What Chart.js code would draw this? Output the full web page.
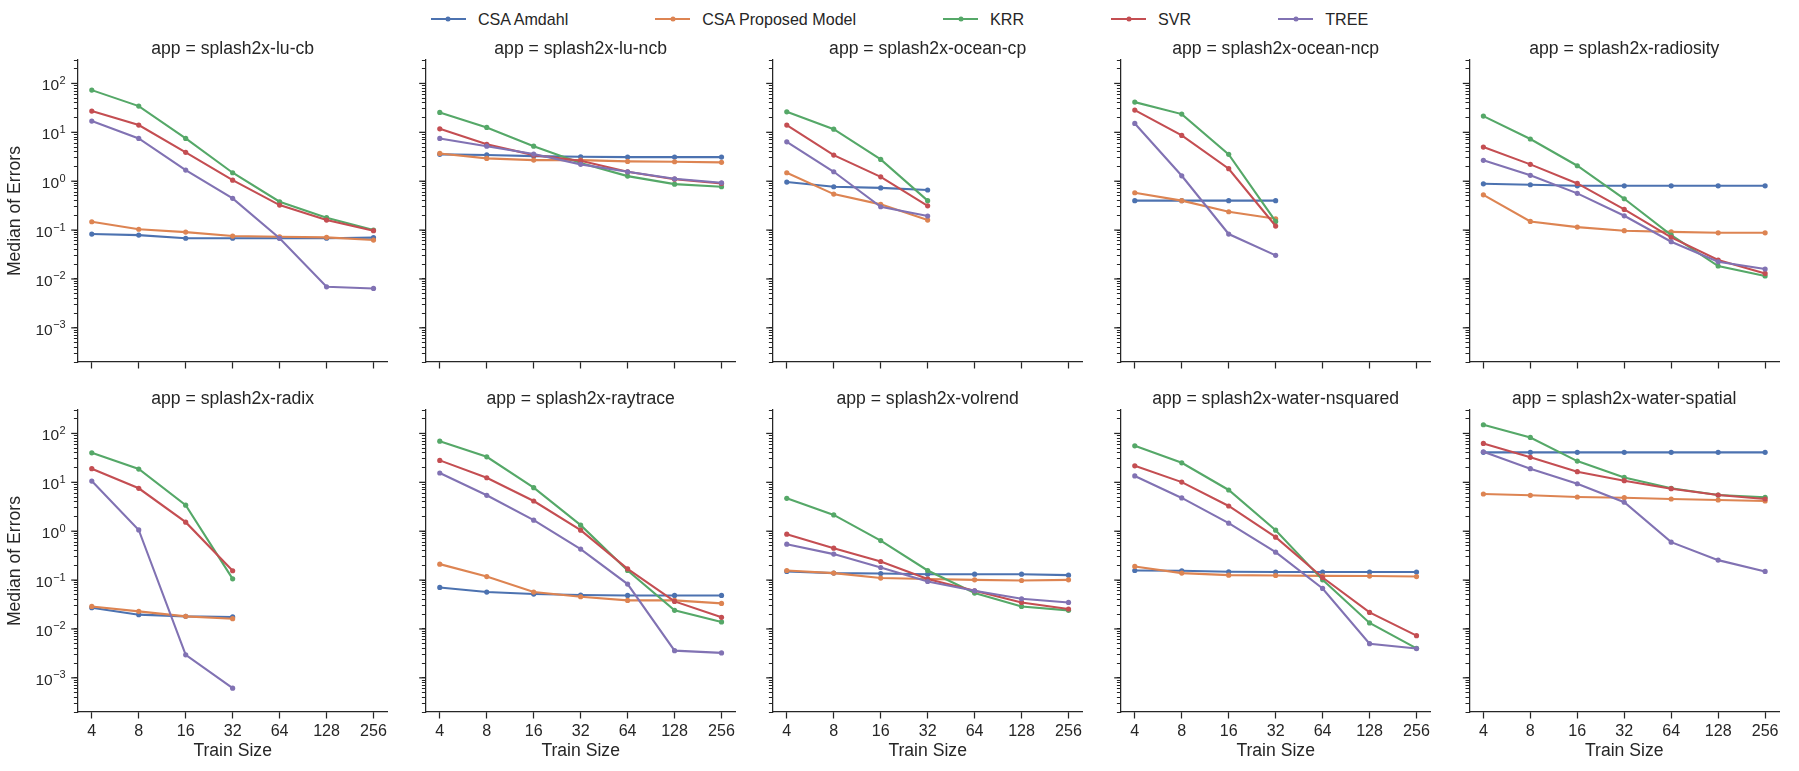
<!DOCTYPE html>
<html>
<head>
<meta charset="utf-8">
<script src="https://cdn.jsdelivr.net/npm/chart.js@4.4.0/dist/chart.umd.min.js"></script>
<style>
  html, body { margin: 0; padding: 0; background: #ffffff; }
  #wrap { position: relative; width: 1799px; height: 771px; overflow: hidden; background: #ffffff;
          font-family: "Liberation Sans", Arial, sans-serif; color: #262626; }
  #wrap canvas { position: absolute; }
  #legend { position: absolute; top: 9px; left: 0; width: 1799px; height: 20px; display: flex;
            justify-content: center; align-items: center; gap: 87px; font-size: 16.1px; line-height: 20px; }
  .item { display: flex; align-items: center; white-space: nowrap; }
  .handle { position: relative; width: 35px; height: 2.2px; margin-right: 12px; background: var(--c); }
  .handle::after { content: ""; position: absolute; left: 50%; top: 50%; width: 5px; height: 5px;
                   border-radius: 50%; background: var(--c); transform: translate(-50%, -50%); }
</style>
</head>
<body>
<div id="wrap"><div id="legend"></div></div>
<script>
// ---------------- data ----------------
const trainSizes = [4, 8, 16, 32, 64, 128, 256];
const xTickLabels = ['4', '8', '16', '32', '64', '128', '256'];
const yMajorExponents = [-3, -2, -1, 0, 1, 2];
const apps = ['splash2x-lu-cb', 'splash2x-lu-ncb', 'splash2x-ocean-cp', 'splash2x-ocean-ncp', 'splash2x-radiosity',
              'splash2x-radix', 'splash2x-raytrace', 'splash2x-volrend', 'splash2x-water-nsquared', 'splash2x-water-spatial'];
const seriesNames = ['CSA Amdahl', 'CSA Proposed Model', 'KRR', 'SVR', 'TREE'];
const seriesColors = ['#4C72B0', '#DD8452', '#55A868', '#C44E52', '#8172B3'];

const csaAmdahl = [
  [0.083, 0.079, 0.068, 0.068, 0.068, 0.068, 0.070],
  [3.54, 3.44, 3.26, 3.16, 3.11, 3.11, 3.11],
  [0.96, 0.77, 0.73, 0.66],
  [0.40, 0.40, 0.40, 0.40],
  [0.885, 0.845, 0.805, 0.805, 0.805, 0.805, 0.805],
  [0.0272, 0.0196, 0.0181, 0.0176],
  [0.0706, 0.0569, 0.0518, 0.0494, 0.0485, 0.0485, 0.0485],
  [0.150, 0.139, 0.136, 0.132, 0.132, 0.132, 0.126],
  [0.157, 0.155, 0.148, 0.146, 0.146, 0.146, 0.146],
  [41, 41, 41, 41, 41, 41, 41]
];
const csaProposed = [
  [0.148, 0.104, 0.091, 0.0755, 0.073, 0.071, 0.0625],
  [3.7, 2.93, 2.7, 2.7, 2.54, 2.5, 2.43],
  [1.49, 0.545, 0.336, 0.16],
  [0.58, 0.40, 0.237, 0.17],
  [0.527, 0.150, 0.115, 0.097, 0.092, 0.088, 0.088],
  [0.0289, 0.0229, 0.0181, 0.0162],
  [0.212, 0.118, 0.0569, 0.0456, 0.0384, 0.0384, 0.0333],
  [0.157, 0.139, 0.110, 0.105, 0.101, 0.098, 0.101],
  [0.190, 0.139, 0.126, 0.124, 0.122, 0.121, 0.118],
  [5.77, 5.43, 5.01, 4.85, 4.56, 4.35, 4.15]
];
const krr = [
  [73, 34.4, 7.5, 1.49, 0.38, 0.179, 0.100],
  [25.5, 12.6, 5.2, 2.35, 1.27, 0.87, 0.77],
  [26.3, 11.6, 2.79, 0.40],
  [41.5, 23.6, 3.54, 0.150],
  [21.5, 7.3, 2.07, 0.437, 0.079, 0.0184, 0.0115],
  [40.2, 18.7, 3.4, 0.106],
  [69.6, 33.3, 7.76, 1.33, 0.157, 0.024, 0.0139],
  [4.71, 2.15, 0.643, 0.157, 0.0543, 0.0289, 0.024],
  [55.8, 25.1, 6.97, 1.05, 0.101, 0.0133, 0.00402],
  [150.6, 82.8, 27.2, 12.6, 7.55, 5.5, 4.94]
];
const svr = [
  [27.2, 14.1, 3.9, 1.05, 0.325, 0.160, 0.097],
  [11.8, 5.7, 3.42, 2.62, 1.56, 1.10, 0.90],
  [14.1, 3.42, 1.23, 0.314],
  [28.5, 8.65, 1.8, 0.121],
  [4.99, 2.21, 0.90, 0.265, 0.071, 0.0244, 0.013],
  [19, 7.55, 1.53, 0.155],
  [28.1, 12.4, 4.15, 1.05, 0.170, 0.0366, 0.0173],
  [0.87, 0.45, 0.24, 0.105, 0.0605, 0.0349, 0.0256],
  [21.8, 10.1, 3.28, 0.755, 0.113, 0.0218, 0.0073],
  [62.5, 32.4, 16.5, 10.8, 7.4, 5.5, 4.56]
];
const tree = [
  [17, 7.5, 1.69, 0.446, 0.068, 0.0069, 0.0064],
  [7.5, 5.2, 3.59, 2.21, 1.56, 1.12, 0.93],
  [6.4, 1.56, 0.30, 0.194],
  [15.2, 1.29, 0.083, 0.0304],
  [2.67, 1.32, 0.564, 0.196, 0.0577, 0.0225, 0.016],
  [10.6, 1.06, 0.00295, 0.000614],
  [15.5, 5.43, 1.68, 0.43, 0.083, 0.0036, 0.00324],
  [0.543, 0.34, 0.181, 0.0936, 0.0605, 0.0415, 0.0349],
  [13.5, 4.79, 1.46, 0.373, 0.0674, 0.0050, 0.00397],
  [42.1, 19, 9.35, 3.91, 0.597, 0.256, 0.150]
];
const seriesData = [csaAmdahl, csaProposed, krr, svr, tree];

// ---------------- style / layout ----------------
const INK = '#262626';
const FONT = '"Liberation Sans", Arial, sans-serif';
const LABEL_SIZE = 17.6, TICK_SIZE = 16.1;
const Y_MIN = 2e-4, Y_MAX = 300;
const X_MIN = Math.pow(2, 1.7), X_MAX = Math.pow(2, 8.3);
const AXIS_X = [77.7, 425.7, 772.7, 1120.7, 1469.3];
const ROW_TOP = [60, 410];
const PLOT_W = 309.9, PLOT_H = 302;
const MAJOR_LEN = 6.5, MINOR_LEN = 3.8;

// y tick positions: majors at powers of ten, minors at 2..9 x 10^n
const yTickValues = [];
for (let e = -4; e <= 2; e++) {
  for (let s = 1; s <= 9; s++) {
    const v = s * Math.pow(10, e);
    if (v >= Y_MIN * 0.999 && v <= Y_MAX * 1.001) yTickValues.push(v);
  }
}

// legend
const legendEl = document.getElementById('legend');
seriesNames.forEach((name, i) => {
  const item = document.createElement('div');
  item.className = 'item';
  const h = document.createElement('span');
  h.className = 'handle';
  h.style.setProperty('--c', seriesColors[i]);
  const t = document.createElement('span');
  t.textContent = name;
  item.appendChild(h); item.appendChild(t);
  legendEl.appendChild(item);
});

// plugin: major y ticks + superscript decade labels
const decadeAxis = {
  id: 'decadeAxis',
  afterDraw(chart, args, opts) {
    const ys = chart.scales.y, ctx = chart.ctx;
    const x0 = chart.chartArea.left;
    ctx.save();
    ctx.strokeStyle = INK;
    ctx.lineWidth = 1.25;
    yMajorExponents.forEach(e => {
      const py = ys.getPixelForValue(Math.pow(10, e));
      ctx.beginPath(); ctx.moveTo(x0 - MAJOR_LEN, py); ctx.lineTo(x0, py); ctx.stroke();
    });
    if (opts.labels) {
      ctx.fillStyle = INK;
      ctx.textBaseline = 'alphabetic';
      const right = x0 - MAJOR_LEN - 5.5;
      yMajorExponents.forEach(e => {
        const py = ys.getPixelForValue(Math.pow(10, e));
        const expTxt = e < 0 ? '\u2212' + String(-e) : String(e);
        ctx.font = '11px ' + FONT;
        const ew = ctx.measureText(expTxt).width;
        ctx.textAlign = 'left';
        ctx.fillText(expTxt, right - ew, py + 0.5);
        ctx.font = '15.5px ' + FONT;
        ctx.textAlign = 'right';
        ctx.fillText('10', right - ew - 0.5, py + 6.8);
      });
    }
    ctx.restore();
  }
};

const wrap = document.getElementById('wrap');
apps.forEach((app, p) => {
  const r = Math.floor(p / 5), c = p % 5;
  const axisX = AXIS_X[c];
  const chartTop = ROW_TOP[r];
  const canvasLeft = Math.floor(axisX) - 78;
  const canvasTop = chartTop - 22;
  const yWidth = axisX - canvasLeft;
  const xHeight = r === 1 ? 50 : 10;
  const canvasW = 406;
  const canvasH = 22 + PLOT_H + xHeight;
  const padRight = canvasW - yWidth - PLOT_W;

  const cv = document.createElement('canvas');
  cv.width = canvasW; cv.height = canvasH;
  cv.style.left = canvasLeft + 'px'; cv.style.top = canvasTop + 'px';
  cv.style.width = canvasW + 'px'; cv.style.height = canvasH + 'px';
  wrap.appendChild(cv);

  const datasets = seriesNames.map((name, si) => ({
    label: name,
    data: seriesData[si][p].map((v, i) => ({ x: trainSizes[i], y: v })),
    borderColor: seriesColors[si],
    backgroundColor: seriesColors[si],
    pointBackgroundColor: seriesColors[si],
    pointBorderColor: seriesColors[si],
    borderWidth: 2.1,
    pointRadius: 2.6,
    pointBorderWidth: 0,
    pointHoverRadius: 2.6,
    tension: 0,
    fill: false,
    order: seriesNames.length - si
  }));

  new Chart(cv, {
    type: 'line',
    data: { datasets },
    plugins: [decadeAxis],
    options: {
      responsive: false,
      animation: false,
      events: [],
      layout: { autoPadding: false, padding: { left: 0, top: 0, right: padRight, bottom: 0 } },
      plugins: {
        legend: { display: false },
        tooltip: { enabled: false },
        title: {
          display: true, text: 'app = ' + app, fullSize: false, color: INK,
          font: { family: FONT, size: LABEL_SIZE, weight: 'normal', lineHeight: 1.2 },
          padding: { top: 0.5, bottom: 0.5 }
        },
        decadeAxis: { labels: c === 0 }
      },
      scales: {
        x: {
          type: 'logarithmic', min: X_MIN, max: X_MAX,
          afterBuildTicks: s => { s.ticks = trainSizes.map(v => ({ value: v })); },
          afterFit: s => { s.height = xHeight; },
          ticks: {
            display: r === 1, autoSkip: false, maxRotation: 0, padding: 3, color: INK,
            font: { family: FONT, size: TICK_SIZE },
            callback: (v, i) => xTickLabels[i]
          },
          grid: { display: true, drawOnChartArea: false, drawTicks: true, tickLength: MAJOR_LEN, tickWidth: 1.25, tickColor: INK },
          border: { display: true, color: INK, width: 1.25 },
          title: {
            display: r === 1, text: 'Train Size', color: INK,
            font: { family: FONT, size: LABEL_SIZE, lineHeight: 1.2 },
            padding: { top: 0, bottom: 0.3 }
          }
        },
        y: {
          type: 'logarithmic', min: Y_MIN, max: Y_MAX,
          afterBuildTicks: s => { s.ticks = yTickValues.map(v => ({ value: v })); },
          afterFit: s => { s.width = yWidth; },
          ticks: { display: false },
          grid: { display: true, drawOnChartArea: false, drawTicks: true, tickLength: MINOR_LEN, tickWidth: 1, tickColor: INK },
          border: { display: true, color: INK, width: 1.25 },
          title: {
            display: c === 0, text: 'Median of Errors', color: INK,
            font: { family: FONT, size: LABEL_SIZE, lineHeight: 1.2 },
            padding: { top: 5.5, bottom: 0 }
          }
        }
      }
    }
  });
});
</script>
</body>
</html>
